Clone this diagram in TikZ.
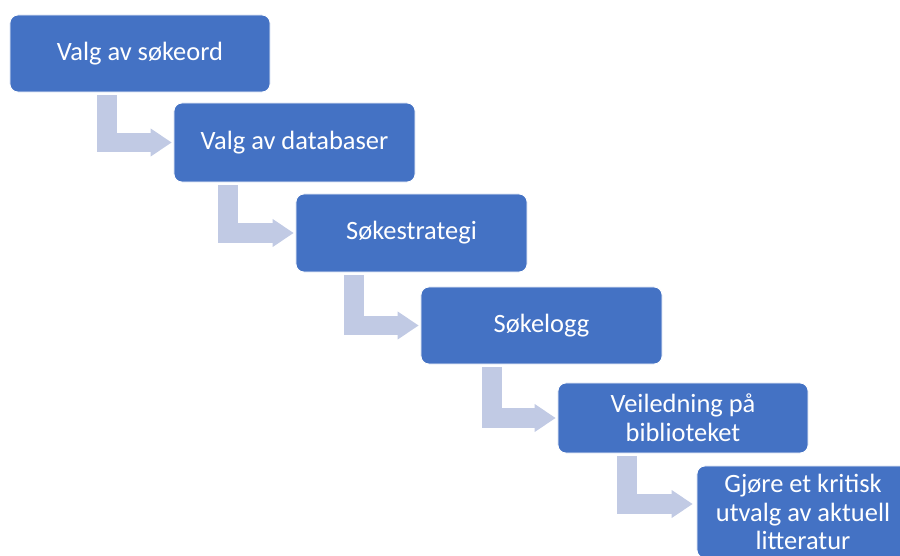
\documentclass[tikz,border=0pt]{standalone}
\usepackage{fontspec}
\setmainfont{Carlito}
\usetikzlibrary{calc,arrows.meta}
\definecolor{stepblue}{HTML}{4472C4}
\definecolor{flowgrey}{HTML}{C1CAE4}
\tikzset{
	stepbox/.style={draw=white, line width=0.6pt, fill=stepblue, rounded corners=0.2cm,
		text=white, align=center, font=\fontsize{18.8}{20.3}\selectfont, inner sep=0pt},
	flow/.style={draw=flowgrey, line width=14.2pt,
		-{Triangle[width=20pt,length=14.9pt,line width=0pt]}}
}

\begin{document}
\begin{tikzpicture}[x=0.025cm, y=-0.025cm]
			%%%%% START %%%%%
			
			\clip (0, 0) rectangle (900, 556);
			
			\node[stepbox, minimum width=6.5cm, minimum height=1.925cm] (sokeord) at (140, 53.5) {Valg av søkeord};
			\node[stepbox, minimum width=6.025cm, minimum height=1.975cm] (databaser) at (294.5, 142.5) {Valg av databaser};
			\node[stepbox, minimum width=5.775cm, minimum height=1.95cm] (strategi) at (411.5, 233) {Søkestrategi};
			\node[stepbox, minimum width=6.025cm, minimum height=1.925cm] (logg) at (541.5, 325.5) {Søkelogg};
			\node[stepbox, minimum width=6.25cm, minimum height=1.75cm] (veiledning) at (683, 418) {Veiledning på\\biblioteket};
			\node[stepbox, minimum width=5.3cm, minimum height=2.3cm] (utvalg) at (803, 512) {Gjøre et kritisk\\utvalg av aktuell\\litteratur};
			
			\draw[flow] ($(sokeord.south west)+(97, 3)$) |- ($(databaser.west)+(-2, 0)$);
			\draw[flow] ($(databaser.south west)+(54, 3)$) |- ($(strategi.west)+(-2, 0)$);
			\draw[flow] ($(strategi.south west)+(58, 3)$) |- ($(logg.west)+(-2, 0)$);
			\draw[flow] ($(logg.south west)+(71, 3)$) |- ($(veiledning.west)+(-2, 0)$);
			\draw[flow] ($(veiledning.south west)+(69, 3)$) |- ($(utvalg.west)+(-4, -8)$);
			
			%%%%% END %%%%%
\end{tikzpicture}
\end{document}
